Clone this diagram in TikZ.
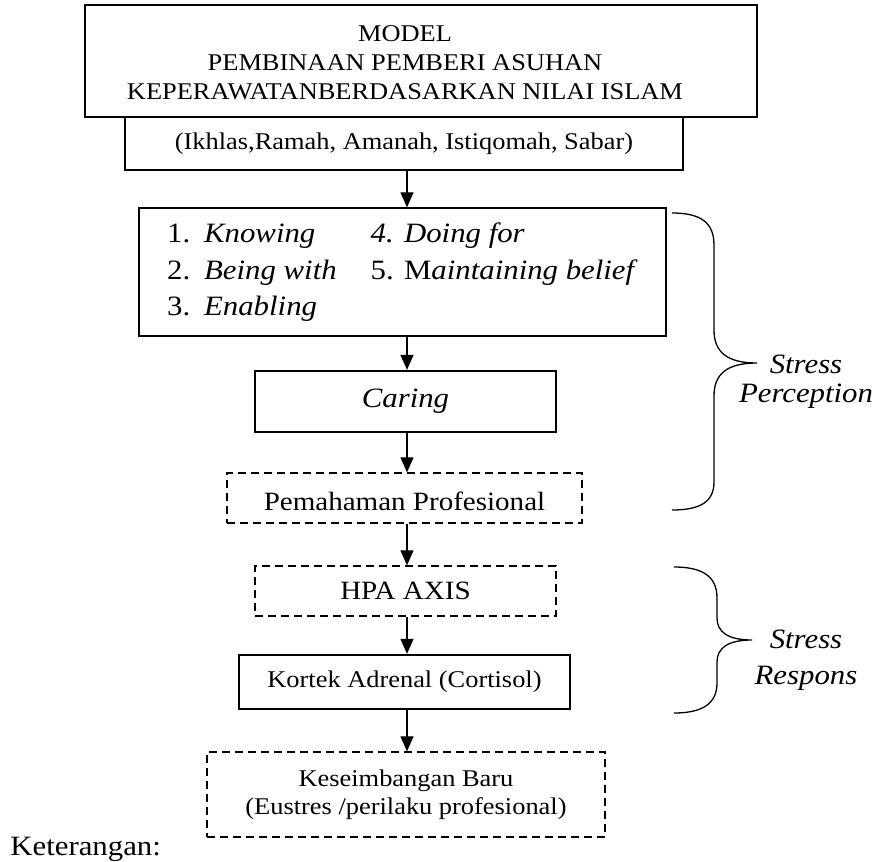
\documentclass[tikz,border=0pt]{standalone}
\usepackage{fontspec}
\setmainfont{Liberation Serif}[FakeStretch=1.1]
\usepackage{tikz}
\usetikzlibrary{arrows.meta}

\begin{document}
\begin{tikzpicture}[x=0.5pt, y=-0.5pt,
    kotak/.style={draw, line width=0.65pt, inner sep=0pt, align=center},
    tebal/.style={kotak, line width=1.15pt},
    putus/.style={kotak, dash pattern=on 4pt off 2.5pt},
    panah/.style={-{Triangle[length=7.5pt,width=6.5pt]}, line width=0.6pt},
    kurung/.style={line width=0.65pt},
    ket/.style={font=\fontsize{14}{14.5}\selectfont\itshape, align=center, inner sep=0pt}]
    \useasboundingbox (0,0) rectangle (885,862);
    % kotak judul
    \node[kotak, line width=1.35pt, minimum width=336pt, minimum height=56pt] (judul) at (421,61) {};
    \node[align=center, inner sep=0pt, font=\fontsize{12}{14.5}\selectfont] (judulteks) at (405,63) {MODEL\\PEMBINAAN PEMBERI ASUHAN\\KEPERAWATANBERDASARKAN NILAI ISLAM};
    \node[tebal, line width=1pt, minimum width=279pt, minimum height=26.5pt, font=\fontsize{12}{14}\selectfont] (nilai) at (404,143.5) {(Ikhlas,Ramah, Amanah, Istiqomah, Sabar)};
    % alur
    \node[kotak, minimum width=263.5pt, minimum height=64pt, font=\fontsize{14}{18.25}\selectfont] (daftar) at (402.5,272) {\begin{tabular}{@{}l@{\hspace{6.9pt}}l@{\hspace{17pt}}l@{}}
        1. & \textit{Knowing} & \textit{4. Doing for}\\
        2. & \textit{Being with} & 5. M\textit{aintaining belief}\\
        3. & \textit{Enabling} &
    \end{tabular}};
    \node[tebal, minimum width=150.5pt, minimum height=30.5pt, font=\fontsize{14}{16}\selectfont\itshape] (caring) at (405.5,401.5) {Caring};
    \node[putus, minimum width=177.5pt, minimum height=25pt, text height=12.5pt, text depth=0pt, font=\fontsize{13.2}{15}\selectfont] (paham) at (404.5,498) {Pemahaman Profesional};
    \node[putus, minimum width=150.5pt, minimum height=25pt, font=\fontsize{13.2}{15}\selectfont] (hpa) at (405.5,591) {HPA AXIS};
    \node[tebal, minimum width=165.5pt, minimum height=27pt, font=\fontsize{12}{14}\selectfont] (kortek) at (404.5,682) {Kortek Adrenal (Cortisol)};
    \node[putus, minimum width=199pt, minimum height=42.5pt, font=\fontsize{12}{14}\selectfont] (baru) at (406,794.5) {Keseimbangan Baru\\(Eustres /perilaku profesional)};
    % panah
    \coordinate (sumbu) at (407,0);
    \draw[panah] (nilai.south -| sumbu) -- (daftar.north -| sumbu);
    \draw[panah] (daftar.south -| sumbu) -- (caring.north -| sumbu);
    \draw[panah] (caring.south -| sumbu) -- (paham.north -| sumbu);
    \draw[panah] (paham.south -| sumbu) -- (hpa.north -| sumbu);
    \draw[panah] (hpa.south -| sumbu) -- (kortek.north -| sumbu);
    \draw[panah] (kortek.south -| sumbu) -- (baru.north -| sumbu);
    % kurung kurawal
    \draw[kurung] (672,213) .. controls (700,213) and (714,222) .. (714,245) -- (714,330) .. controls (714,352) and (727,363) .. (757,363) .. controls (727,363) and (714,374) .. (714,396) -- (714,482) .. controls (714,502) and (700,510) .. (672,510);
    \draw[kurung] (674,567) .. controls (702,567) and (717,576) .. (717,598) -- (717,618) .. controls (717,632) and (728,640) .. (752,640) .. controls (728,640) and (717,648) .. (717,662) -- (717,683) .. controls (717,704) and (702,713) .. (674,713);
    \node[ket] (persepsi) at (806,382) {Stress\\Perception};
    \node[ket, font=\fontsize{14}{18}\selectfont\itshape] (respons) at (806,660) {Stress\\Respons};
    \node[anchor=base west, inner sep=0pt, font=\fontsize{14}{16}\selectfont] (keterangan) at (10,855) {Keterangan:};
\end{tikzpicture}
\end{document}
